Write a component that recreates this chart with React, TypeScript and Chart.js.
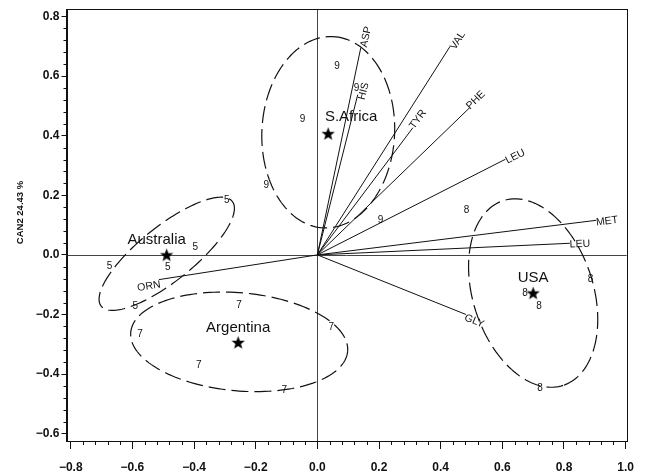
import React, { useEffect, useRef } from "react";
import { Chart, registerables } from "chart.js";
Chart.register(...registerables);

// ---------- DATA ----------
const xTickValues = [-0.8, -0.6, -0.4, -0.2, 0.0, 0.2, 0.4, 0.6, 0.8, 1.0];
const yTickValues = [-0.6, -0.4, -0.2, 0.0, 0.2, 0.4, 0.6, 0.8];
const yAxisTitle = "CAN2 24.43 %";

const groupNames = ["S.Africa", "USA", "Australia", "Argentina"];
const groupCodes = ["9", "8", "5", "7"];
const centroidX = [0.035, 0.7, -0.489, -0.257];
const centroidY = [0.407, -0.128, 0.0, -0.294];

const saX = [0.064, 0.127, -0.048, -0.166, 0.205];
const saY = [0.632, 0.558, 0.455, 0.233, 0.116];
const usaX = [0.484, 0.886, 0.674, 0.719, 0.722];
const usaY = [0.15, -0.083, -0.128, -0.172, -0.449];
const ausX = [-0.294, -0.396, -0.674, -0.485, -0.591];
const ausY = [0.183, 0.024, -0.039, -0.041, -0.172];
const argX = [-0.254, 0.045, -0.575, -0.385, -0.107];
const argY = [-0.169, -0.244, -0.266, -0.369, -0.455];

// confidence ellipses: centre and two semi-axis vectors (data units)
const ellipseCX = [0.0353, 0.7, -0.4886, -0.2536];
const ellipseCY = [0.4116, -0.128, 0.0037, -0.2918];
const ellipseUX = [0.016, 0.0973, 0.2125, 0.3518];
const ellipseUY = [0.321, -0.31, 0.176, -0.0319];
const ellipseVX = [0.215, -0.1856, 0.0552, -0.0138];
const ellipseVY = [-0.0116, -0.0626, -0.0715, -0.164];

const vectorNames = ["ASP", "HIS", "VAL", "TYR", "PHE", "LEU", "MET", "LEU", "GLY", "ORN"];
const vectorX = [0.141, 0.131, 0.43, 0.31, 0.494, 0.61, 0.904, 0.819, 0.482, -0.514];
const vectorY = [0.696, 0.538, 0.699, 0.427, 0.494, 0.321, 0.116, 0.039, -0.2, -0.083];

// ---------- STYLE ----------
const FONT = "'Liberation Sans', Arial, Helvetica, sans-serif";
const labelAlong = [11.6, 4.8, 9.4, 9.6, 9.6, 10.1, 10.8, 10, 10.2, 10.9];
const labelPerp = [3, 5, 3.5, -1, -1.3, 2.1, 2.3, 1.4, 3.1, 5.1];
const groupLabelDx = [23, 0, -10, 0];
const groupLabelDy = [-16.5, -15, -15, -15];

function fmt(v: number) {
  const s = Math.abs(v).toFixed(1);
  return v < -1e-9 ? "\u2212" + s : s;
}

function makeStar(): HTMLCanvasElement {
  const c = document.createElement("canvas");
  c.width = 15;
  c.height = 15;
  const g = c.getContext("2d")!;
  g.fillStyle = "#000";
  g.beginPath();
  const R = 7, r = 2.9, cx = 7.5, cy = 8;
  for (let i = 0; i < 10; i++) {
    const a = -Math.PI / 2 + (i * Math.PI) / 5;
    const rad = i % 2 === 0 ? R : r;
    const px = cx + rad * Math.cos(a);
    const py = cy + rad * Math.sin(a);
    if (i === 0) g.moveTo(px, py);
    else g.lineTo(px, py);
  }
  g.closePath();
  g.fill();
  return c;
}

export default function App() {
  const ref = useRef<HTMLCanvasElement | null>(null);
  useEffect(() => {
    if (!ref.current) return;
    const star = makeStar();
    const obsSets = [
      [saX, saY],
      [usaX, usaY],
      [ausX, ausY],
      [argX, argY],
    ];

    const datasets: any[] = [];
    // ellipses
    for (let g = 0; g < 4; g++) {
      const pts: { x: number; y: number }[] = [];
      const n = 160;
      for (let i = 0; i <= n; i++) {
        const t = (i / n) * Math.PI * 2;
        pts.push({
          x: ellipseCX[g] + ellipseUX[g] * Math.cos(t) + ellipseVX[g] * Math.sin(t),
          y: ellipseCY[g] + ellipseUY[g] * Math.cos(t) + ellipseVY[g] * Math.sin(t),
        });
      }
      datasets.push({
        type: "scatter",
        data: pts,
        showLine: true,
        borderColor: "#111",
        borderWidth: 1.2,
        borderDash: [17, 6],
        pointRadius: 0,
        fill: false,
        tension: 0,
      });
    }
    // vectors
    for (let i = 0; i < vectorNames.length; i++) {
      datasets.push({
        type: "scatter",
        data: [
          { x: 0, y: 0 },
          { x: vectorX[i], y: vectorY[i] },
        ],
        showLine: true,
        borderColor: "#111",
        borderWidth: 1,
        pointRadius: 0,
        fill: false,
      });
    }
    // observations (drawn as code numbers)
    for (let g = 0; g < 4; g++) {
      datasets.push({
        type: "scatter",
        label: "obs" + g,
        data: obsSets[g][0].map((x, i) => ({ x, y: obsSets[g][1][i] })),
        pointRadius: 0,
        showLine: false,
      });
    }
    // centroids
    datasets.push({
      type: "scatter",
      label: "centroids",
      data: centroidX.map((x, i) => ({ x, y: centroidY[i] })),
      pointStyle: star,
      pointRadius: 7,
      showLine: false,
    });

    const nObsStart = 4 + vectorNames.length;
    const centroidIdx = nObsStart + 4;

    const decor = {
      id: "decor",
      beforeDatasetsDraw(chart: any) {
        const { ctx, chartArea: a, scales } = chart;
        const xs = scales.x, ys = scales.y;
        ctx.save();
        ctx.strokeStyle = "#444";
        ctx.lineWidth = 1;
        const x0 = Math.round(xs.getPixelForValue(0)) + 0.5;
        const y0 = Math.round(ys.getPixelForValue(0)) + 0.5;
        ctx.beginPath();
        ctx.moveTo(x0, a.top);
        ctx.lineTo(x0, a.bottom);
        ctx.moveTo(a.left, y0);
        ctx.lineTo(a.right, y0);
        ctx.stroke();
        ctx.restore();
      },
      afterDatasetsDraw(chart: any) {
        const { ctx, chartArea: a, scales } = chart;
        const xs = scales.x, ys = scales.y;
        ctx.save();
        // frame
        ctx.strokeStyle = "#111";
        ctx.lineWidth = 1;
        ctx.strokeRect(Math.round(a.left) + 0.5, Math.round(a.top) + 0.5, Math.round(a.right - a.left), Math.round(a.bottom - a.top));
        // minor ticks
        ctx.beginPath();
        for (let k = 0; k < xTickValues.length - 1; k++) {
          for (let m = 1; m < 5; m++) {
            const v = xTickValues[k] + ((xTickValues[k + 1] - xTickValues[k]) * m) / 5;
            const px = Math.round(xs.getPixelForValue(v)) + 0.5;
            ctx.moveTo(px, a.bottom);
            ctx.lineTo(px, a.bottom + 4);
          }
        }
        for (let k = 0; k < yTickValues.length - 1; k++) {
          for (let m = 1; m < 5; m++) {
            const v = yTickValues[k] + ((yTickValues[k + 1] - yTickValues[k]) * m) / 5;
            const py = Math.round(ys.getPixelForValue(v)) + 0.5;
            ctx.moveTo(a.left, py);
            ctx.lineTo(a.left - 3, py);
          }
        }
        ctx.stroke();

        ctx.fillStyle = "#111";
        ctx.textAlign = "center";
        ctx.textBaseline = "middle";
        // observation codes
        ctx.font = "10px " + FONT;
        for (let g = 0; g < 4; g++) {
          const meta = chart.getDatasetMeta(nObsStart + g);
          meta.data.forEach((p: any) => ctx.fillText(groupCodes[g], p.x, p.y));
        }
        // group labels
        ctx.font = "15px " + FONT;
        const cm = chart.getDatasetMeta(centroidIdx);
        cm.data.forEach((p: any, i: number) => {
          ctx.fillText(groupNames[i], p.x + groupLabelDx[i], p.y + groupLabelDy[i]);
        });
        // vector labels
        ctx.font = "10.5px " + FONT;
        const ox = xs.getPixelForValue(0), oy = ys.getPixelForValue(0);
        for (let i = 0; i < vectorNames.length; i++) {
          const ex = xs.getPixelForValue(vectorX[i]);
          const ey = ys.getPixelForValue(vectorY[i]);
          let ux = ex - ox, uy = ey - oy;
          const L = Math.hypot(ux, uy);
          ux /= L;
          uy /= L;
          let tx = ux, ty = uy;
          if (tx < 0) {
            tx = -tx;
            ty = -ty;
          }
          const th = Math.atan2(ty, tx);
          const dx = -Math.sin(th), dy = Math.cos(th);
          const cx = ex + ux * labelAlong[i] + dx * labelPerp[i];
          const cy = ey + uy * labelAlong[i] + dy * labelPerp[i];
          ctx.save();
          ctx.translate(cx, cy);
          ctx.rotate(th);
          ctx.fillText(vectorNames[i], 0, 0);
          ctx.restore();
        }
        // y axis title
        ctx.save();
        ctx.font = "bold 9.5px " + FONT;
        ctx.translate(20.5, 212.5);
        ctx.rotate(-Math.PI / 2);
        ctx.fillText(yAxisTitle, 0, 0);
        ctx.restore();
        ctx.restore();
      },
    };

    const chart = new Chart(ref.current, {
      type: "scatter",
      data: { datasets },
      options: {
        animation: false,
        responsive: false,
        devicePixelRatio: 1,
        events: [],
        layout: { padding: { top: 5.5, right: 12.5, left: 0, bottom: 0 } },
        plugins: { legend: { display: false }, tooltip: { enabled: false } },
        scales: {
          x: {
            type: "linear",
            min: -0.8138,
            max: 1.0032,
            afterBuildTicks: (s: any) => {
              s.ticks = xTickValues.map((v) => ({ value: v }));
            },
            afterFit: (s: any) => {
              s.height = 34;
            },
            ticks: {
              callback: (v: any) => fmt(Number(v)),
              color: "#111",
              font: { family: FONT, size: 12, weight: "bold" },
              padding: 11,
              maxRotation: 0,
              autoSkip: false,
            },
            grid: { display: true, drawOnChartArea: false, drawTicks: true, tickLength: 8, color: "#111", lineWidth: 1 },
            border: { display: true, color: "#111", width: 1 },
          },
          y: {
            type: "linear",
            min: -0.6246,
            max: 0.8246,
            afterBuildTicks: (s: any) => {
              s.ticks = yTickValues.map((v) => ({ value: v }));
            },
            afterFit: (s: any) => {
              s.width = 66.5;
            },
            ticks: {
              callback: (v: any) => fmt(Number(v)),
              color: "#111",
              font: { family: FONT, size: 12, weight: "bold" },
              padding: 2,
              autoSkip: false,
            },
            grid: { display: true, drawOnChartArea: false, drawTicks: true, tickLength: 5, color: "#111", lineWidth: 1 },
            border: { display: true, color: "#111", width: 1 },
          },
        },
      },
      plugins: [decor],
    } as any);
    return () => chart.destroy();
  }, []);

  return (
    <div style={{ position: "absolute", left: 0, top: 0, width: 645, height: 475, background: "#fff" }}>
      <canvas ref={ref} width={645} height={475} style={{ display: "block" }} />
    </div>
  );
}
